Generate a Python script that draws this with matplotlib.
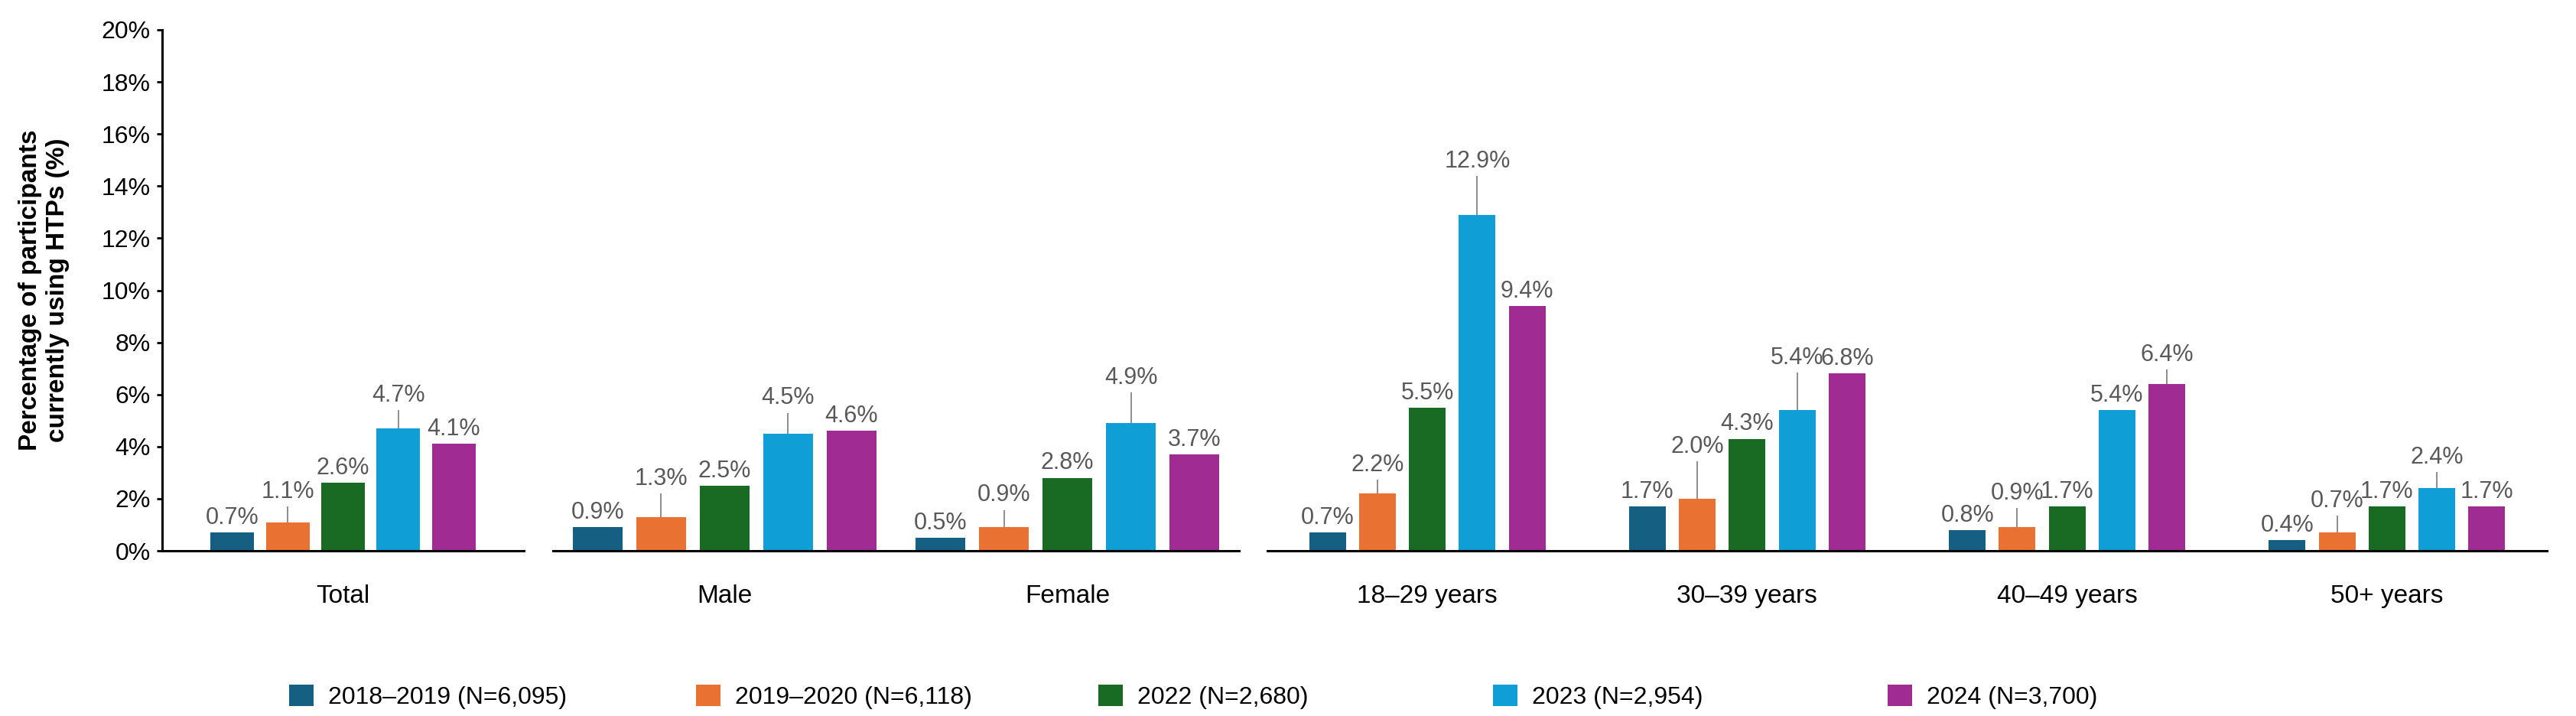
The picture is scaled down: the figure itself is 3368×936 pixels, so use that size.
import numpy as np
import matplotlib
matplotlib.use("Agg")
import matplotlib.pyplot as plt

plt.rcParams['font.family'] = ['Liberation Sans', 'DejaVu Sans']

# ── data ──
cats_total = ["Total"]
cats_sex = ["Male", "Female"]
cats_age = ["18–29 years", "30–39 years", "40–49 years", "50+ years"]

series_names = ["2018–2019 (N=6,095)", "2019–2020 (N=6,118)", "2022 (N=2,680)",
                "2023 (N=2,954)", "2024 (N=3,700)"]
colors = ["#156082", "#E97132", "#196B24", "#0F9ED5", "#A02B93"]

# order: Total, Male, Female, 18-29, 30-39, 40-49, 50+
v2018 = [0.7, 0.9, 0.5, 0.7, 1.7, 0.8, 0.4]
v2019 = [1.1, 1.3, 0.9, 2.2, 2.0, 0.9, 0.7]
v2022 = [2.6, 2.5, 2.8, 5.5, 4.3, 1.7, 1.7]
v2023 = [4.7, 4.5, 4.9, 12.9, 5.4, 5.4, 2.4]
v2024 = [4.1, 4.6, 3.7, 9.4, 6.8, 6.4, 1.7]

nan = np.nan
# upper end of the error whisker (nan = no whisker drawn)
hi2018 = [nan, nan, nan, nan, nan, nan, nan]
hi2019 = [1.7, 2.2, 1.57, 2.73, 3.44, 1.64, 1.35]
hi2022 = [nan, nan, nan, nan, nan, nan, nan]
hi2023 = [5.4, 5.3, 6.08, 14.4, 6.84, nan, 3.02]
hi2024 = [nan, nan, nan, nan, nan, 6.95, nan]

values = [v2018, v2019, v2022, v2023, v2024]
highs = [hi2018, hi2019, hi2022, hi2023, hi2024]

# ── figure ──
W, H = 3368, 936
fig = plt.figure(figsize=(W / 100, H / 100), dpi=100)

y0, y1 = 720, 39
def px_axes(left, right):
    return fig.add_axes([left / W, 1 - y0 / H, (right - left) / W, (y0 - y1) / H])

segments = [
    (px_axes(212, 685), cats_total, slice(0, 1), 0.153, 0.12),
    (px_axes(723, 1620), cats_sex, slice(1, 3), 0.185, 0.145),
    (px_axes(1657, 3330), cats_age, slice(3, 7), 0.156, 0.115),
]

bar_handles = []
for k, (ax, cats, sl, step, width) in enumerate(segments):
    n = len(cats)
    base = np.arange(n)
    for i in range(5):
        vals = np.array(values[i][sl], dtype=float)
        hi = np.array(highs[i][sl], dtype=float)
        x = base + (i - 2) * step
        bars = ax.bar(x, vals, width, color=colors[i], label=series_names[i], zorder=2)
        if k == 0:
            bar_handles.append(bars)
        m = ~np.isnan(hi)
        if m.any():
            ax.errorbar(x[m], vals[m], yerr=[np.zeros(m.sum()), hi[m] - vals[m]],
                        fmt='none', ecolor='#8c8c8c', elinewidth=1.4, capsize=0, zorder=3)
        tops = np.where(m, hi, vals)
        for xx, vv, tt in zip(x, vals, tops):
            ax.annotate(f"{vv:.1f}%", (xx, tt), xytext=(0, 3), textcoords='offset points',
                        ha='center', va='bottom', fontsize=22, color='#595959')
    ax.set_xlim(-0.5, n - 0.5)
    ax.set_ylim(0, 20)
    ax.set_xticks(base)
    ax.set_xticklabels(cats, fontsize=24)
    ax.tick_params(axis='x', length=0, pad=32)
    for s in ['top', 'right']:
        ax.spines[s].set_visible(False)
    ax.spines['bottom'].set_linewidth(2.2)
    ax.spines['bottom'].set_color('black')
    if k == 0:
        ax.set_yticks(np.arange(0, 21, 2))
        ax.set_yticklabels([f"{t}%" for t in range(0, 21, 2)], fontsize=23)
        ax.tick_params(axis='y', length=5, width=2, pad=6)
        ax.spines['left'].set_linewidth(2.2)
        ax.set_ylabel("Percentage of participants\ncurrently using HTPs (%)",
                      fontsize=24, fontweight='bold', labelpad=30)
    else:
        ax.spines['left'].set_visible(False)
        ax.set_yticks([])

# legend: equally spaced entries
leg_x = [362, 894, 1420, 1936, 2452]
for h, lx in zip(bar_handles, leg_x):
    fig.legend(handles=[h], labels=[h.get_label()], loc='center left',
               bbox_to_anchor=(lx / W, 1 - 911 / H), frameon=False, fontsize=23,
               handlelength=1.0, handleheight=1.0, handletextpad=0.6, borderpad=0)

fig.savefig("out.png", dpi=100)
